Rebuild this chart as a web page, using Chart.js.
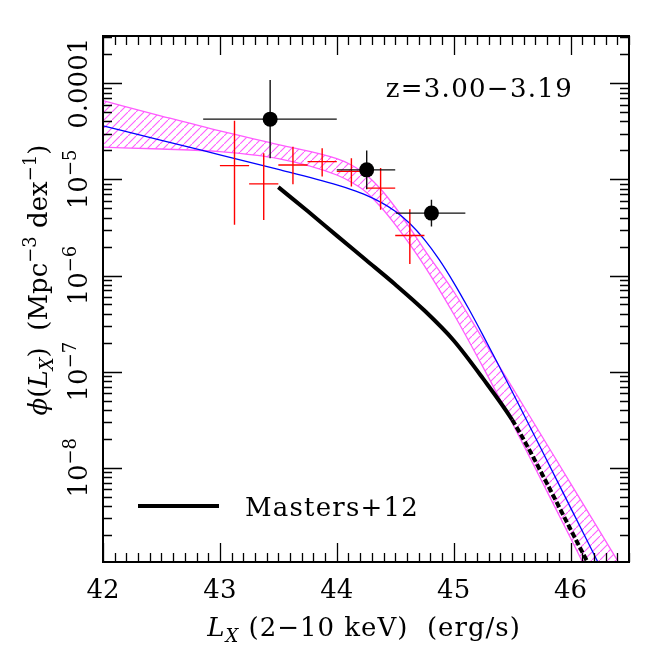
<!DOCTYPE html>
<html>
<head>
<meta charset="utf-8">
<script src="https://cdn.jsdelivr.net/npm/chart.js@4"></script>
<style>
  body { margin: 0; background: #fff; }
  canvas { display: block; }
</style>
</head>
<body>
<canvas id="lfChart" width="664" height="664"></canvas>
<script>
// hatched band (log Lx grid, phi upper / lower)
const bandLx = [42.0, 42.5, 43.0, 43.5, 44.0, 44.125, 44.25, 44.375, 44.5, 44.625, 44.75, 45.0, 45.25, 45.5, 45.75, 46.0, 46.25, 46.5];
const bandUpper = [6.59e-5, 4.56e-5, 3.19e-5, 2.30e-5, 1.64e-5, 1.41e-5, 1.12e-5, 7.94e-6, 5.13e-6, 3.13e-6, 1.85e-6, 6.82e-7, 2.18e-7, 6.89e-8, 2.18e-8, 6.89e-9, 2.18e-9, 6.89e-10];
const bandLower = [2.16e-5, 2.07e-5, 1.94e-5, 1.64e-5, 1.11e-5, 9.33e-6, 7.41e-6, 5.19e-6, 3.39e-6, 2.11e-6, 1.26e-6, 3.98e-7, 1.12e-7, 2.95e-8, 7.41e-9, 1.86e-9, 4.57e-10, 1.12e-10];

// blue model curve
const modelLx = [42.0, 42.5, 43.0, 43.5, 44.0, 44.125, 44.25, 44.375, 44.5, 44.625, 44.75, 44.875, 45.0, 45.125, 45.25, 45.375, 45.5, 45.75, 46.0, 46.25];
const modelPhi = [3.60e-5, 2.55e-5, 1.80e-5, 1.27e-5, 8.75e-6, 7.82e-6, 6.85e-6, 5.79e-6, 4.66e-6, 3.47e-6, 2.36e-6, 1.47e-6, 8.45e-7, 4.59e-7, 2.40e-7, 1.23e-7, 6.22e-8, 1.56e-8, 3.85e-9, 9.53e-10];

// Masters+12 (dashed beyond 45.5)
const mastersLx = [43.5, 43.75, 44.0, 44.25, 44.5, 44.75, 45.0, 45.25, 45.5, 45.625, 45.75, 46.0, 46.25];
const mastersPhi = [8.30e-6, 4.68e-6, 2.60e-6, 1.45e-6, 8.07e-7, 4.32e-7, 2.11e-7, 8.51e-8, 3.16e-8, 1.72e-8, 8.91e-9, 2.29e-9, 5.89e-10];
const mastersDashFrom = 45.5;

// black binned points
const blackLx = [43.43, 44.256, 44.81];
const blackLxLo = [42.857, 44.0, 44.505];
const blackLxHi = [44.0, 44.5, 45.1];
const blackPhi = [4.23e-5, 1.256e-5, 4.46e-6];
const blackPhiLo = [1.66e-5, 7.9e-6, 3.23e-6];
const blackPhiHi = [1.08e-4, 2.0e-5, 6.12e-6];

// red crosses
const redLx = [43.125, 43.375, 43.625, 43.875, 44.125, 44.375, 44.625];
const redLxLo = [43.0, 43.25, 43.5, 43.75, 44.0, 44.25, 44.5];
const redLxHi = [43.25, 43.5, 43.75, 44.0, 44.25, 44.5, 44.75];
const redPhi = [1.39e-5, 8.97e-6, 1.41e-5, 1.53e-5, 1.21e-5, 8.11e-6, 2.61e-6];
const redPhiLo = [3.37e-6, 3.79e-6, 8.9e-6, 1.07e-5, 8.41e-6, 4.82e-6, 1.32e-6];
const redPhiHi = [4.08e-5, 1.87e-5, 2.19e-5, 2.11e-5, 1.66e-5, 1.31e-5, 4.9e-6];

// axes
const xRange = [42, 46.5];
const yRange = [1.047e-9, 3.10e-4];
const xTicks = [42, 43, 44, 45, 46];
const yTicks = [1e-8, 1e-7, 1e-6, 1e-5, 1e-4];
const yTickBase = ['10', '10', '10', '10', '0.0001'];
const yTickSup = ['\u22128', '\u22127', '\u22126', '\u22125', ''];
const redshiftLabel = 'z=3.00\u22123.19';
const legendLabel = 'Masters+12';

const FONT = '"DejaVu Serif"';
const MAGENTA = '#ff5cff';

function pts(xs, ys) {
    return xs.map((x, i) => ({ x: x, y: ys[i] }));
}

function makeHatch() {
    const c = document.createElement('canvas');
    c.width = 8;
    c.height = 8;
    const g = c.getContext('2d');
    g.strokeStyle = MAGENTA;
    g.lineWidth = 1.1;
    g.beginPath();
    g.moveTo(-1, 9);
    g.lineTo(9, -1);
    g.stroke();
    return g.createPattern(c, 'repeat');
}

// draws text pieces in a row: [text, size, italic, dy]
function drawPieces(ctx, pieces, x, y, align, spacing) {
    ctx.letterSpacing = (spacing || 0) + 'px';
    let total = 0;
    pieces.forEach(p => {
        ctx.font = (p[2] ? 'italic ' : '') + p[1] + 'px ' + FONT;
        total += ctx.measureText(p[0]).width;
    });
    let cx = align === 'center' ? x - total / 2 : (align === 'right' ? x - total : x);
    ctx.textAlign = 'left';
    ctx.textBaseline = 'alphabetic';
    pieces.forEach(p => {
        ctx.font = (p[2] ? 'italic ' : '') + p[1] + 'px ' + FONT;
        ctx.fillText(p[0], cx, y + (p[3] || 0));
        cx += ctx.measureText(p[0]).width;
    });
    ctx.letterSpacing = '0px';
}

// error bars before each dataset's own points
const errorBars = {
    id: 'errorBars',
    beforeDatasetDraw(chart, args) {
        const ds = chart.data.datasets[args.index];
        if (!ds.errors) return;
        const { ctx, scales: { x, y } } = chart;
        const e = ds.errors;
        ctx.save();
        ctx.strokeStyle = ds.barColor;
        ctx.lineWidth = 1.4;
        ds.data.forEach((p, i) => {
            const px = x.getPixelForValue(p.x);
            const py = y.getPixelForValue(p.y);
            ctx.beginPath();
            ctx.moveTo(x.getPixelForValue(e.xlo[i]), py);
            ctx.lineTo(x.getPixelForValue(e.xhi[i]), py);
            ctx.moveTo(px, y.getPixelForValue(e.ylo[i]));
            ctx.lineTo(px, y.getPixelForValue(e.yhi[i]));
            ctx.stroke();
        });
        ctx.restore();
    }
};

// frame, ticks, labels, annotations
const frame = {
    id: 'frame',
    afterDraw(chart) {
        const { ctx, chartArea: a, scales: { x, y } } = chart;
        ctx.save();
        ctx.strokeStyle = '#000';
        ctx.fillStyle = '#000';

        // ticks
        ctx.lineWidth = 1.3;
        ctx.beginPath();
        for (let k = Math.round(xRange[0] * 10); k <= Math.round(xRange[1] * 10); k++) {
            const px = Math.round(x.getPixelForValue(k / 10)) + 0.5;
            const len = k % 10 === 0 ? 19 : 9;
            ctx.moveTo(px, a.bottom);
            ctx.lineTo(px, a.bottom - len);
            ctx.moveTo(px, a.top);
            ctx.lineTo(px, a.top + len);
        }
        for (let ex = -10; ex <= -3; ex++) {
            for (let m = 1; m <= 9; m++) {
                const v = m * Math.pow(10, ex);
                if (v < yRange[0] || v > yRange[1]) continue;
                const py = Math.round(y.getPixelForValue(v)) + 0.5;
                const len = m === 1 ? 19 : 9;
                ctx.moveTo(a.left, py);
                ctx.lineTo(a.left + len, py);
                ctx.moveTo(a.right, py);
                ctx.lineTo(a.right - len, py);
            }
        }
        ctx.stroke();

        // frame
        ctx.lineWidth = 2;
        ctx.strokeRect(a.left, a.top, a.right - a.left, a.bottom - a.top);

        // x tick labels
        xTicks.forEach(v => {
            drawPieces(ctx, [[String(v), 26, false]], x.getPixelForValue(v), a.bottom + 36, 'center');
        });

        // y tick labels (rotated)
        yTicks.forEach((v, i) => {
            ctx.save();
            ctx.translate(a.left - 16, y.getPixelForValue(v));
            ctx.rotate(-Math.PI / 2);
            const pieces = [[yTickBase[i], 26, false]];
            if (yTickSup[i]) pieces.push([yTickSup[i], 18, false, -11]);
            drawPieces(ctx, pieces, 0, 0, 'center');
            ctx.restore();
        });

        // axis titles
        drawPieces(ctx, [
            ['L', 26, true], ['X', 18, true, 6],
            [' (2\u221210 keV)  (erg/s)', 26, false]
        ], (a.left + a.right) / 2 - 2, 636, 'center', 1);

        ctx.save();
        ctx.translate(47, 280);
        ctx.rotate(-Math.PI / 2);
        drawPieces(ctx, [
            ['\u03d5', 26, true], ['(', 26, false], ['L', 26, true], ['X', 18, true, 6],
            [')  (Mpc', 26, false], ['\u22123', 18, false, -11],
            [' dex', 26, false], ['\u22121', 18, false, -11], [')', 26, false]
        ], 0, 0, 'center');
        ctx.restore();

        // redshift label
        drawPieces(ctx, [[redshiftLabel, 26, false]], 573, 97, 'right', 1.3);

        // legend
        ctx.lineWidth = 4;
        ctx.beginPath();
        ctx.moveTo(138, 506);
        ctx.lineTo(219, 506);
        ctx.stroke();
        drawPieces(ctx, [[legendLabel, 26, false]], 245, 516, 'left', 1.2);

        ctx.restore();
    }
};

const chart = new Chart(document.getElementById('lfChart'), {
    type: 'line',
    data: {
        datasets: [
            {
                label: 'binned',
                data: pts(blackLx, blackPhi),
                showLine: false,
                pointRadius: 7.5,
                pointBackgroundColor: '#000',
                pointBorderColor: '#000',
                pointBorderWidth: 0,
                barColor: '#111',
                errors: { xlo: blackLxLo, xhi: blackLxHi, ylo: blackPhiLo, yhi: blackPhiHi }
            },
            {
                label: 'red',
                data: pts(redLx, redPhi),
                showLine: false,
                pointRadius: 0,
                barColor: '#ff0000',
                errors: { xlo: redLxLo, xhi: redLxHi, ylo: redPhiLo, yhi: redPhiHi }
            },
            {
                label: legendLabel,
                data: pts(mastersLx, mastersPhi),
                borderColor: '#000',
                borderWidth: 4,
                pointRadius: 0,
                cubicInterpolationMode: 'monotone',
                clip: 0,
                segment: {
                    borderDash: ctx => ctx.p0.parsed.x >= mastersDashFrom - 1e-6 ? [6, 2.5] : undefined
                }
            },
            {
                label: 'model',
                data: pts(modelLx, modelPhi),
                borderColor: '#0000ff',
                borderWidth: 1.3,
                pointRadius: 0,
                cubicInterpolationMode: 'monotone',
                clip: 0
            },
            {
                label: 'band upper',
                data: pts(bandLx, bandUpper),
                borderColor: MAGENTA,
                borderWidth: 1.3,
                backgroundColor: makeHatch(),
                fill: '+1',
                pointRadius: 0,
                cubicInterpolationMode: 'monotone',
                clip: 0
            },
            {
                label: 'band lower',
                data: pts(bandLx, bandLower),
                borderColor: MAGENTA,
                borderWidth: 1.3,
                fill: false,
                pointRadius: 0,
                cubicInterpolationMode: 'monotone',
                clip: 0
            }
        ]
    },
    options: {
        responsive: false,
        animation: false,
        layout: { padding: { left: 103, right: 35, top: 36, bottom: 102 } },
        scales: {
            x: { type: 'linear', min: xRange[0], max: xRange[1], display: false },
            y: { type: 'logarithmic', min: yRange[0], max: yRange[1], display: false }
        },
        plugins: {
            legend: { display: false },
            tooltip: { enabled: false }
        }
    },
    plugins: [errorBars, frame]
});
</script>
</body>
</html>
